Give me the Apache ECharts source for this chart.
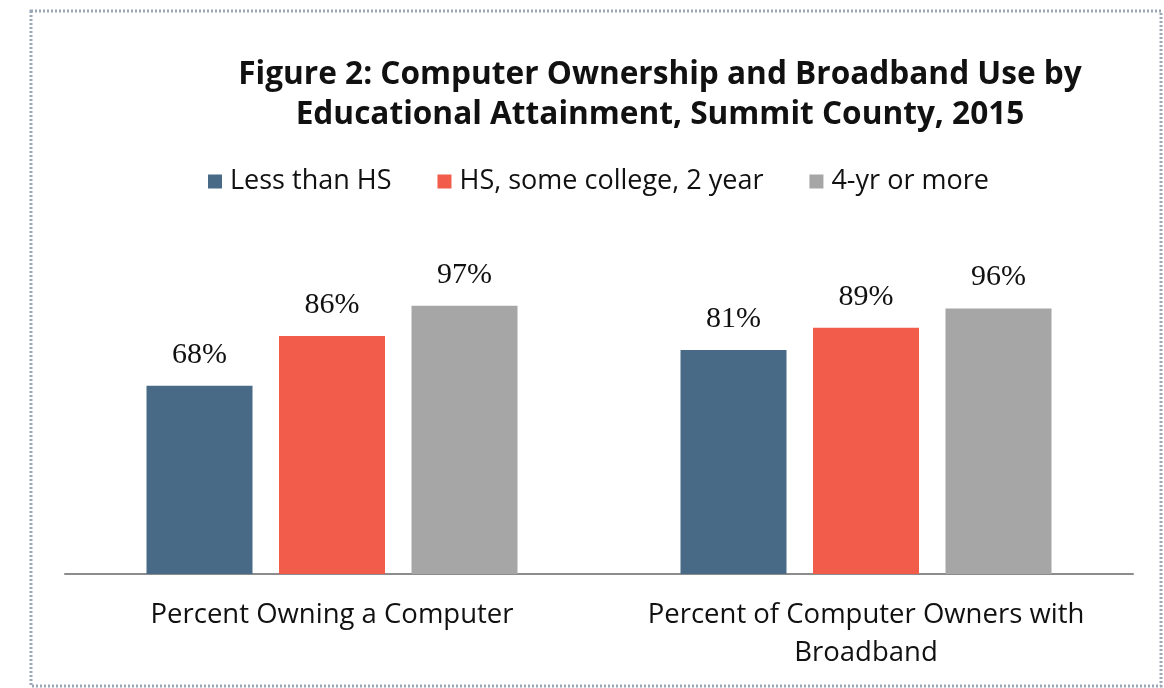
<!DOCTYPE html>
<html>
<head>
<meta charset="utf-8">
<style>
  html, body { margin: 0; padding: 0; background: #ffffff; }
  #chart { width: 1164px; height: 688px; }
</style>
<script src="https://cdn.jsdelivr.net/npm/echarts@6/dist/echarts.min.js"></script>
</head>
<body>
<div id="chart"></div>
<script>
// Categories along the x axis
const categories = ['Percent Owning a Computer', 'Percent of Computer Owners with\nBroadband'];
// Education groups (legend order)
const groupNames = ['Less than HS', 'HS, some college, 2 year', '4-yr or more'];
// Percent values per group, one entry per category
const lessThanHS = [68, 81];
const hsSomeCollege = [86, 89];
const fourYearPlus = [97, 96];

const colors = ['#486a87', '#f25c4b', '#a6a6a6'];
const seriesValues = [lessThanHS, hsSomeCollege, fourYearPlus];

const chart = echarts.init(document.getElementById('chart'));

chart.setOption({
  animation: false,
  title: {
    text: 'Figure 2: Computer Ownership and Broadband Use by\nEducational Attainment, Summit County, 2015',
    left: 655,
    top: 50,
    textAlign: 'center',
    textStyle: {
      fontFamily: 'Open Sans',
      fontWeight: 'bold',
      fontSize: 31.6,
      lineHeight: 40,
      color: '#111111'
    }
  },
  legend: {
    top: 163,
    left: 203,
    itemWidth: 14,
    itemHeight: 14,
    itemGap: 46,
    icon: 'rect',
    textStyle: { fontFamily: 'Open Sans', fontSize: 27, color: '#111111', padding: [0, 0, 0, 3] },
    data: groupNames
  },
  grid: { left: 65, right: 31, top: 242, bottom: 114 },
  xAxis: {
    type: 'category',
    data: categories,
    axisLine: { lineStyle: { color: '#8c8c8c', width: 2 } },
    axisTick: { show: false },
    axisLabel: {
      interval: 0,
      fontFamily: 'Open Sans',
      fontSize: 27.5,
      lineHeight: 38,
      color: '#111111',
      margin: 22
    }
  },
  yAxis: {
    type: 'value',
    min: 0,
    max: 120,
    show: false
  },
  graphic: [{
    type: 'rect',
    shape: { x: 31, y: 11, width: 1130, height: 675 },
    style: { fill: 'none', stroke: '#9aa7b6', lineWidth: 3, lineDash: [2, 2] },
    silent: true
  }],
  series: groupNames.map((name, i) => ({
    name,
    type: 'bar',
    data: seriesValues[i],
    barWidth: 106,
    barGap: '25%',
    itemStyle: { color: colors[i] },
    label: {
      show: true,
      position: 'top',
      distance: 16,
      formatter: '{c}%',
      fontFamily: 'Liberation Serif',
      fontSize: 30,
      color: '#111111'
    }
  }))
});
</script>
</body>
</html>
